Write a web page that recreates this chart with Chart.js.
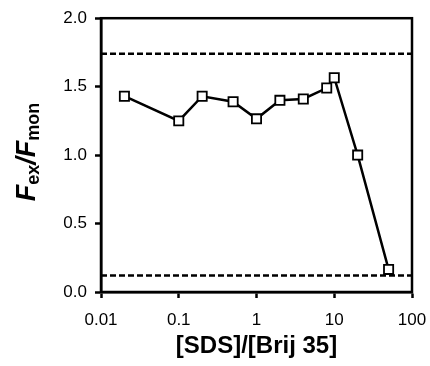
<!DOCTYPE html>
<html>
<head>
<meta charset="utf-8">
<script src="https://cdn.jsdelivr.net/npm/chart.js@4/dist/chart.umd.min.js"></script>
<style>
  html, body { margin: 0; padding: 0; background: #fff; }
  #wrap { width: 430px; height: 366px; }
</style>
</head>
<body>
<div id="wrap"><canvas id="chart" width="430" height="366"></canvas></div>
<script>
// Data
const sdsRatio = [0.02, 0.1, 0.2, 0.5, 1, 2, 4, 8, 10, 20, 50];
const fluorRatio = [1.43, 1.25, 1.43, 1.39, 1.265, 1.40, 1.41, 1.49, 1.565, 1.00, 0.165];
const excimerLevel = 1.74;
const monomerLevel = 0.12;
const xTickValues = [0.01, 0.1, 1, 10, 100];
const xTickLabels = ['0.01', '0.1', '1', '10', '100'];
const yTickValues = [0, 0.5, 1.0, 1.5, 2.0];

const FONT = "'Liberation Sans', Arial, sans-serif";

// Frame around the plot area + rotated y title with subscripts
const frameAndTitle = {
    id: 'frameAndTitle',
    afterDraw(chart) {
        const { ctx, chartArea: a } = chart;
        ctx.save();
        ctx.strokeStyle = '#000';
        ctx.lineWidth = 2.5;
        ctx.strokeRect(a.left, a.top, a.right - a.left, a.bottom - a.top);
        ctx.restore();

        // y axis title: F_ex / F_mon
        const parts = [
            { t: 'F', font: 'italic bold 27px ' + FONT, dy: 0 },
            { t: 'ex', font: 'bold 18px ' + FONT, dy: 4 },
            { t: '/', font: 'italic bold 27px ' + FONT, dy: 0 },
            { t: 'F', font: 'italic bold 27px ' + FONT, dy: 0 },
            { t: 'mon', font: 'bold 18px ' + FONT, dy: 4 }
        ];
        ctx.save();
        let total = 0;
        parts.forEach(p => { ctx.font = p.font; p.w = ctx.measureText(p.t).width; total += p.w; });
        ctx.translate(35, 152);
        ctx.rotate(-Math.PI / 2);
        ctx.fillStyle = '#000';
        ctx.textBaseline = 'alphabetic';
        let x = -total / 2;
        parts.forEach(p => {
            ctx.font = p.font;
            ctx.fillText(p.t, x, p.dy);
            x += p.w;
        });
        ctx.restore();
    }
};

const lineAt = (level) => [
    { x: xTickValues[0], y: level },
    { x: xTickValues[xTickValues.length - 1], y: level }
];

new Chart(document.getElementById('chart'), {
    type: 'line',
    data: {
        datasets: [
            {
                data: sdsRatio.map((v, i) => ({ x: v, y: fluorRatio[i] })),
                borderColor: '#000',
                borderWidth: 2.5,
                pointStyle: 'rect',
                pointRadius: 6.5,
                pointBorderWidth: 1.8,
                pointBackgroundColor: '#fff',
                pointBorderColor: '#000',
                tension: 0,
                order: 0
            },
            {
                data: lineAt(excimerLevel),
                borderColor: '#000',
                borderWidth: 2.5,
                borderDash: [6, 3],
                pointRadius: 0,
                order: 1
            },
            {
                data: lineAt(monomerLevel),
                borderColor: '#000',
                borderWidth: 2.5,
                borderDash: [6, 3],
                pointRadius: 0,
                order: 1
            }
        ]
    },
    options: {
        responsive: false,
        animation: false,
        layout: { padding: { top: 18, right: 18, left: 0, bottom: 0 } },
        plugins: {
            legend: { display: false },
            tooltip: { enabled: false }
        },
        scales: {
            x: {
                type: 'logarithmic',
                min: 0.01,
                max: 100,
                afterBuildTicks(scale) {
                    scale.ticks = xTickValues.map(v => ({ value: v }));
                },
                afterFit(scale) {
                    scale.height = 74;
                    scale.paddingLeft = 0;
                    scale.paddingRight = 0;
                },
                grid: {
                    drawOnChartArea: false,
                    drawTicks: true,
                    tickLength: 6,
                    tickWidth: 2.5,
                    tickColor: '#000'
                },
                border: { display: true, color: '#000', width: 2.5 },
                ticks: {
                    color: '#000',
                    font: { family: FONT, size: 17 },
                    padding: 12,
                    maxRotation: 0,
                    callback: (v, i) => xTickLabels[i]
                },
                title: {
                    display: true,
                    text: '[SDS]/[Brij 35]',
                    color: '#000',
                    font: { family: FONT, size: 24, weight: 'bold' },
                    padding: { top: 0, bottom: 5 }
                }
            },
            y: {
                min: 0,
                max: 2,
                afterBuildTicks(scale) {
                    scale.ticks = yTickValues.map(v => ({ value: v }));
                },
                afterFit(scale) { scale.width = 101; },
                grid: {
                    drawOnChartArea: false,
                    drawTicks: true,
                    tickLength: 6,
                    tickWidth: 2.5,
                    tickColor: '#000'
                },
                border: { display: true, color: '#000', width: 2.5 },
                ticks: {
                    color: '#000',
                    font: { family: FONT, size: 17 },
                    padding: 8,
                    callback: (v) => Number(v).toFixed(1)
                }
            }
        }
    },
    plugins: [frameAndTitle]
});
</script>
</body>
</html>
